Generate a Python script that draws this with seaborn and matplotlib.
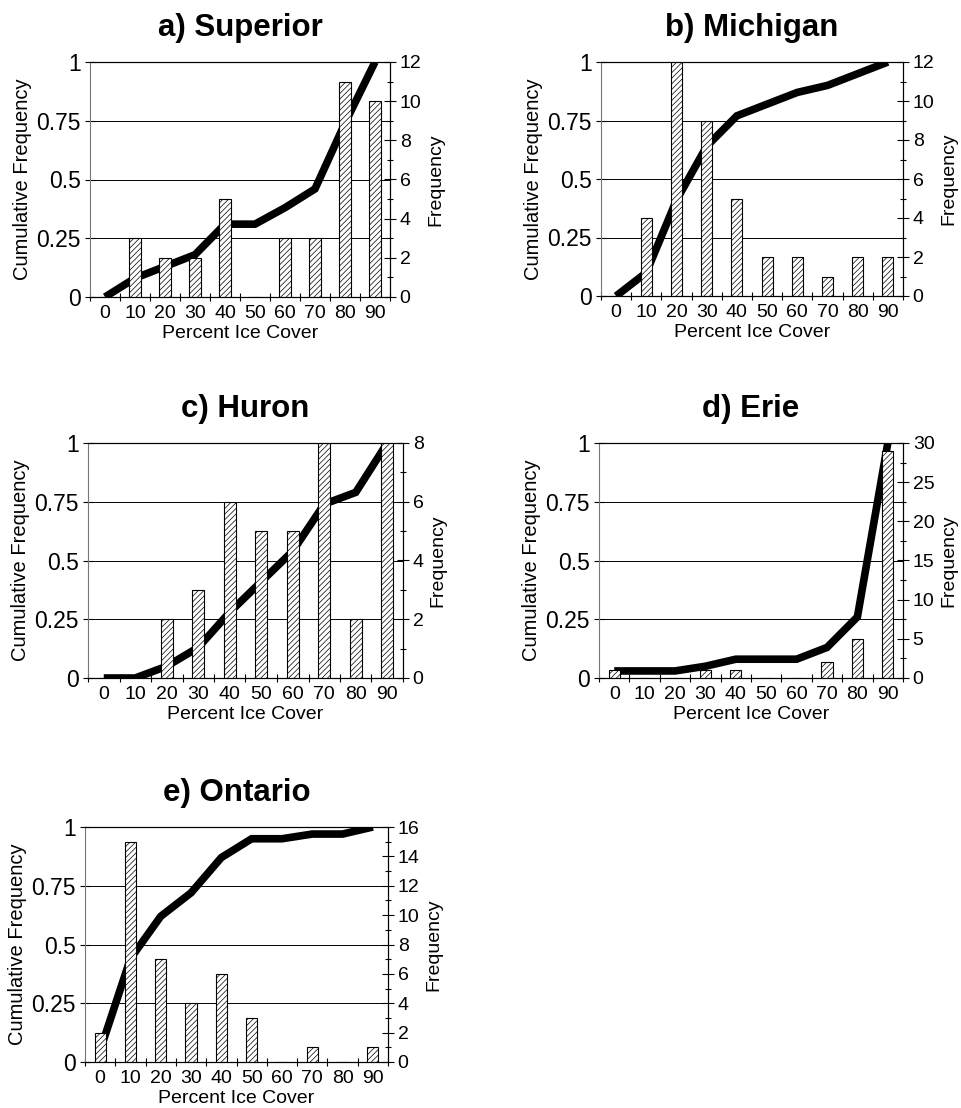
import numpy as np
import seaborn as sns
import matplotlib.pyplot as plt
from matplotlib.ticker import MultipleLocator, FixedLocator

sns.set_theme(style="white")
plt.rcParams['font.family'] = ['Liberation Sans', 'DejaVu Sans']
plt.rcParams['hatch.linewidth'] = 0.5
plt.rcParams['text.color'] = 'black'
plt.rcParams['axes.labelcolor'] = 'black'
plt.rcParams['xtick.color'] = 'black'
plt.rcParams['ytick.color'] = 'black'

categories = ["0", "10", "20", "30", "40", "50", "60", "70", "80", "90"]
cum_ticks = [0, 0.25, 0.5, 0.75, 1]
cum_labels = ["0", "0.25", "0.5", "0.75", "1"]

superior_freq = [0, 3, 2, 2, 5, 0, 3, 3, 11, 10]
superior_cum = [0, 0.08, 0.13, 0.18, 0.31, 0.31, 0.38, 0.46, 0.74, 1.0]
michigan_freq = [0, 4, 12, 9, 5, 2, 2, 1, 2, 2]
michigan_cum = [0, 0.10, 0.41, 0.64, 0.77, 0.82, 0.87, 0.90, 0.95, 1.0]
huron_freq = [0, 0, 2, 3, 6, 5, 5, 8, 2, 8]
huron_cum = [0, 0, 0.05, 0.13, 0.28, 0.41, 0.54, 0.74, 0.79, 1.0]
erie_freq = [1, 0, 0, 1, 1, 0, 0, 2, 5, 29]
erie_cum = [0.03, 0.03, 0.03, 0.05, 0.08, 0.08, 0.08, 0.13, 0.26, 1.0]
ontario_freq = [2, 15, 7, 4, 6, 3, 0, 1, 0, 1]
ontario_cum = [0.05, 0.44, 0.62, 0.72, 0.87, 0.95, 0.95, 0.97, 0.97, 1.0]

W, H = 962, 1108
fig = plt.figure(figsize=(W / 100, H / 100), dpi=100)


def px_axes(left, top, right, bottom):
    return fig.add_axes([left / W, 1 - bottom / H, (right - left) / W, (bottom - top) / H])


def panel(box, title, freq, cum, fmax, fmajor, fminor):
    ax = px_axes(*box)
    ax2 = ax.twinx()
    pos = np.arange(len(categories))
    sns.lineplot(x=pos, y=cum, ax=ax, color="black", lw=5.5,
                 solid_capstyle="butt", solid_joinstyle="miter")
    sns.barplot(x=categories, y=freq, ax=ax2, color="white", saturation=1,
                width=0.37, edgecolor="black", linewidth=0.8, hatch="//////")
    ax.set_xlim(-0.5, len(categories) - 0.5)
    ax.set_ylim(0, 1)
    ax.set_yticks(cum_ticks, cum_labels)
    ax.xaxis.set_major_locator(FixedLocator(pos))
    ax.xaxis.set_ticklabels(categories)
    ax.xaxis.set_minor_locator(FixedLocator(np.arange(-0.5, len(categories), 1)))
    ax.tick_params(axis="x", which="major", length=0, labelsize=14, pad=6)
    ax.tick_params(axis="x", which="minor", length=6, width=0.8, direction="inout",
                   bottom=True)
    ax.tick_params(axis="y", length=7, width=0.8, direction="inout", labelsize=16.5,
                   left=True, pad=3)
    ax.yaxis.grid(True, color="black", lw=0.7)
    ax.xaxis.grid(False)
    for sp in ax.spines.values():
        sp.set_color("black")
        sp.set_linewidth(0.8)
    ax.spines["left"].set_color("#777777")
    ax.set_xlabel("Percent Ice Cover", fontsize=14, labelpad=2)
    ax.set_ylabel("Cumulative Frequency", fontsize=14.5, labelpad=3)
    ax.set_title(title, fontsize=22.5, fontweight="bold", pad=19)

    ax2.set_ylim(0, fmax)
    ax2.yaxis.set_major_locator(MultipleLocator(fmajor))
    ax2.yaxis.set_minor_locator(MultipleLocator(fminor))
    ax2.tick_params(axis="y", which="major", length=8, width=0.8, direction="inout",
                    labelsize=14, right=True, pad=3)
    ax2.tick_params(axis="y", which="minor", length=5, width=0.8, direction="inout",
                    right=True)
    ax2.set_ylabel("Frequency", fontsize=14, labelpad=4)
    ax2.set_xlabel("")
    for sp in ax2.spines.values():
        sp.set_color("black")
        sp.set_linewidth(0.8)
    ax2.spines["left"].set_visible(False)
    return ax, ax2


panel((90, 62, 390, 297), "a) Superior", superior_freq, superior_cum, 12, 2, 1)
panel((601, 62, 903, 296), "b) Michigan", michigan_freq, michigan_cum, 12, 2, 1)
panel((88, 443, 403, 678), "c) Huron", huron_freq, huron_cum, 8, 2, 1)
panel((599, 443, 903, 678), "d) Erie", erie_freq, erie_cum, 30, 5, 2.5)
panel((85, 827, 388, 1062), "e) Ontario", ontario_freq, ontario_cum, 16, 2, 1)

fig.savefig("out.png", dpi=100, facecolor="white")
